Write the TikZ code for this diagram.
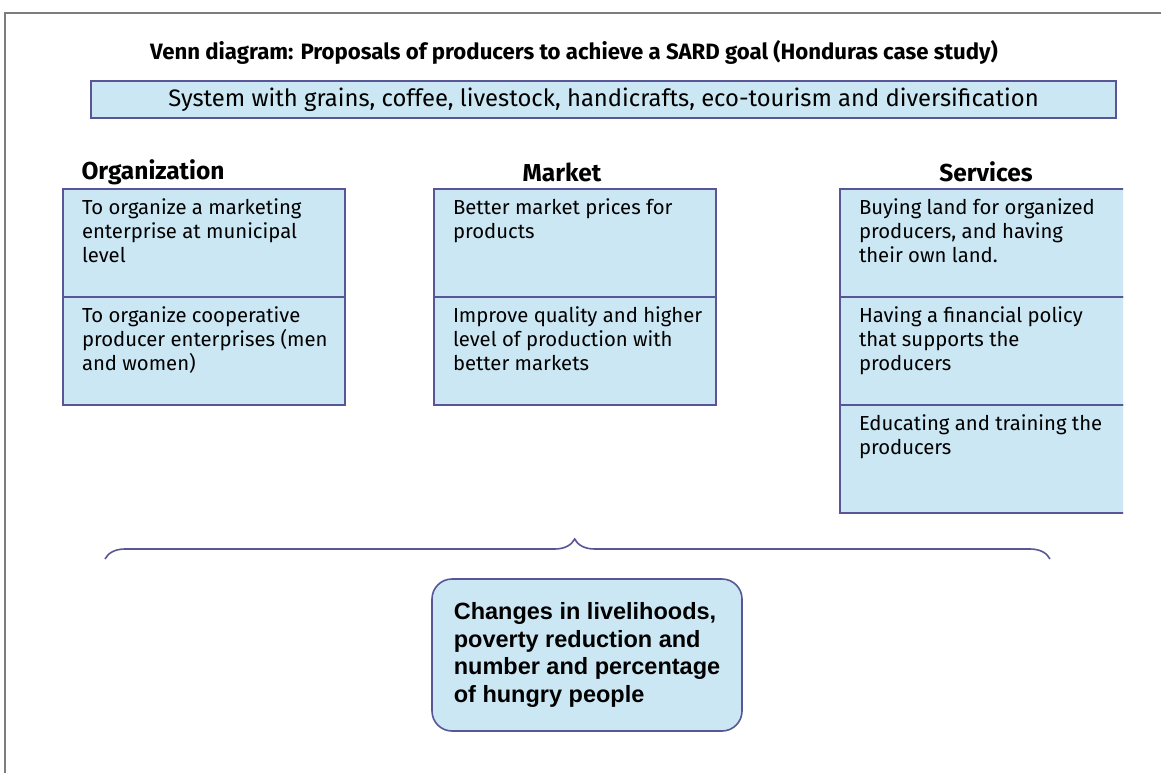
\documentclass[tikz,border=0pt]{standalone}
\usepackage{fontspec}
\setmainfont{Fira Sans}
\newfontfamily\resultfont{Liberation Sans}
\usetikzlibrary{positioning,decorations.pathreplacing}
\definecolor{boxfill}{RGB}{202,231,243}
\definecolor{boxline}{RGB}{88,86,150}
\definecolor{framegray}{RGB}{125,125,125}
\tikzset{
  cell/.style={draw=boxline, line width=1.6pt, fill=boxfill, anchor=north west,
    outer sep=0pt, inner xsep=12pt, inner ysep=10pt, font=\fontsize{20.3}{24}\selectfont},
  heading/.style={font=\bfseries\fontsize{24.5}{26}\selectfont},
}
\newcommand{\celltext}[2][258pt]{\parbox[c][88pt][t]{#1}{\raggedright\leftskip=7pt #2}}
\begin{document}
\begin{tikzpicture}[x=1pt,y=-1pt]
  \useasboundingbox (0,0) rectangle (1161,773);
  \fill[white] (0,0) rectangle (1161,773);
  \draw[framegray, line width=1.5pt] (1161,13) -- (5,13) -- (5,773);

  \node[font=\bfseries\fontsize{22.2}{26}\selectfont] (title) at (574,52)
    {Venn diagram: Proposals of producers to achieve a SARD goal (Honduras case study)};

  \node[draw=boxline, line width=1.6pt, fill=boxfill, minimum width=1025pt, minimum height=37pt,
    font=\fontsize{23.8}{26}\selectfont] (system) at (603.5,99.5)
    {System with grains, coffee, livestock, handicrafts, eco-tourism and diversification};

  % column headings
  \node[heading, anchor=west] (orghead) at (78,172) {Organization};
  \node[heading] (markethead) at (562,172) {Market};
  \node[heading] (servhead) at (986,172) {Services};

  % organization
  \node[cell] (org1) at (63,189) {\celltext{To organize a marketing\\ enterprise at municipal\\ level}};
  \node[cell, below=0pt of org1] (org2) {\celltext{To organize cooperative\\ producer enterprises (men\\ and women)}};

  % market
  \node[cell] (market1) at (434,189) {\celltext{Better market prices for\\ products}};
  \node[cell, below=0pt of market1] (market2) {\celltext{Improve quality and higher\\ level of production with\\ better markets}};

  % services (cut at the right edge)
  \begin{scope}
    \clip (0,0) rectangle (1123,773);
    \node[cell] (serv1) at (840,189) {\celltext[266pt]{Buying land for organized\\ producers, and having\\ their own land.}};
    \node[cell, below=0pt of serv1] (serv2) {\celltext[266pt]{Having a financial policy\\ that supports the\\ producers}};
    \node[cell, below=0pt of serv2] (serv3) {\celltext[266pt]{Educating and training the\\ producers}};
  \end{scope}

  % brace
  \coordinate (braceL) at (105,559);
  \coordinate (braceR) at (1050,559);
  \draw[boxline, line width=1.6pt, decorate, decoration={brace, amplitude=20pt, aspect=0.497}]
    (braceL) -- (braceR);

  \node[draw=boxline, fill=boxfill, rounded corners=20pt, line width=1.6pt,
    minimum width=310pt, minimum height=152pt, inner xsep=4pt, align=left,
    font=\resultfont\bfseries\fontsize{23.5}{27.8}\selectfont] (result) at (587,655)
    {Changes in livelihoods,\\ poverty reduction and\\ number and percentage\\ of hungry people};
\end{tikzpicture}
\end{document}
